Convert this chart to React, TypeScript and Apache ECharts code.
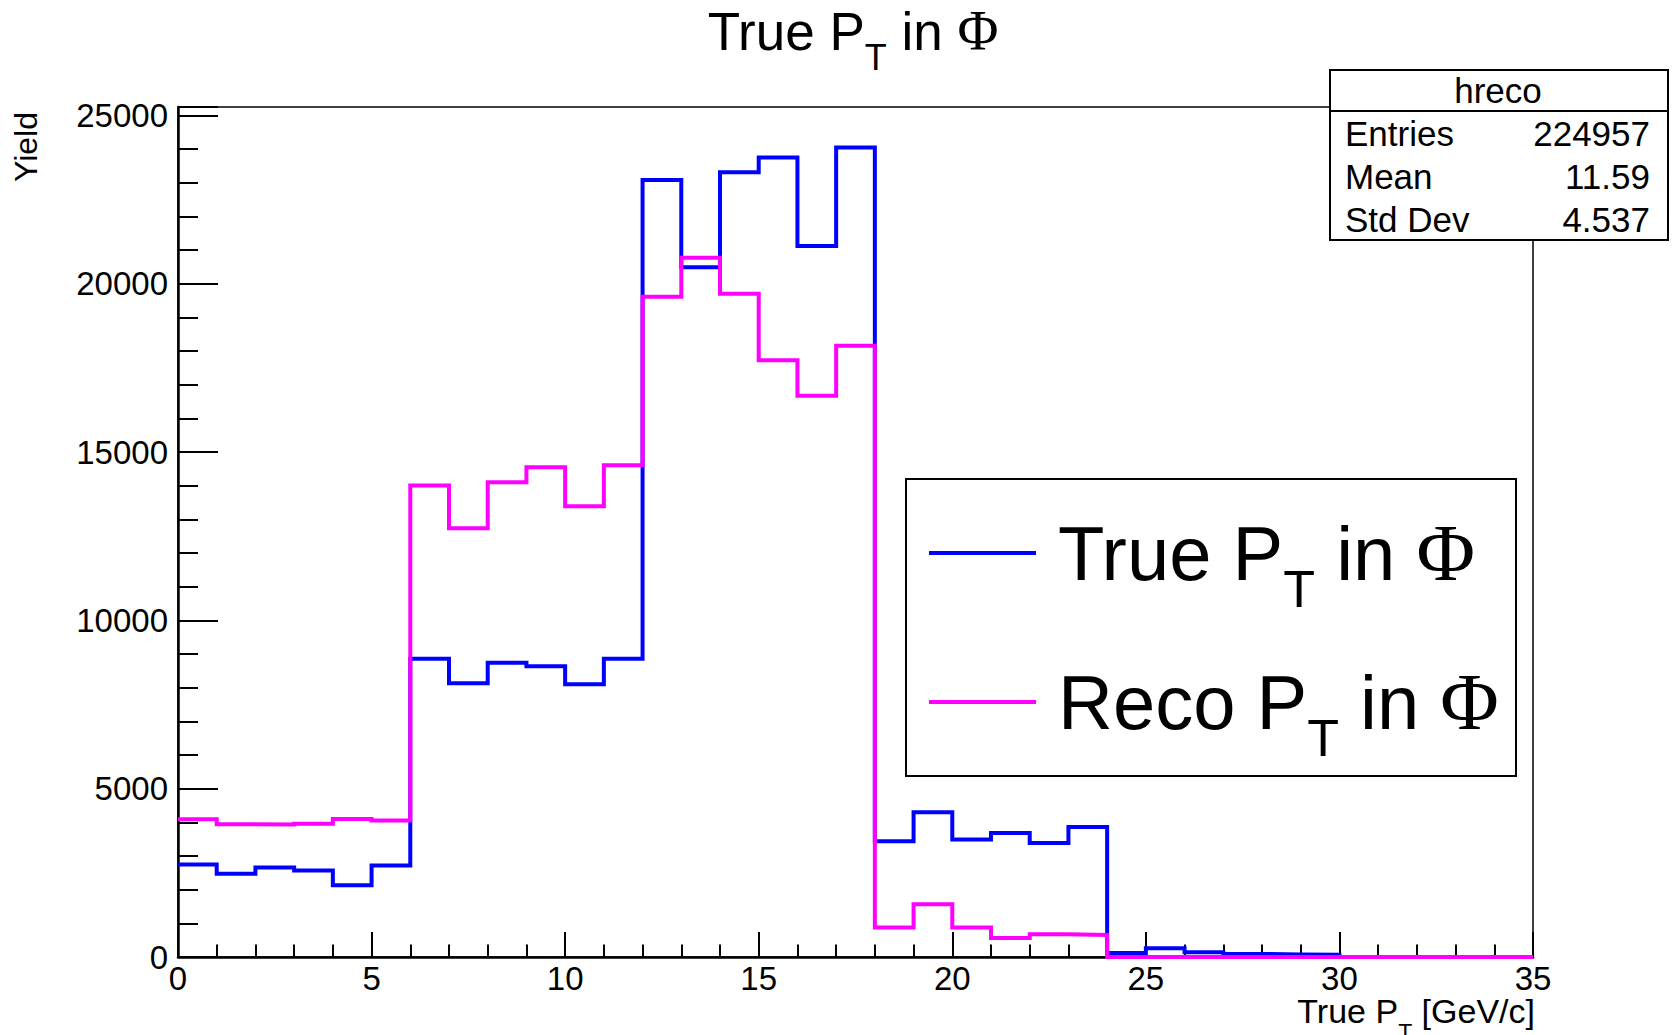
import React, { useEffect, useRef } from 'react';
import * as echarts from 'echarts';

// ---- data ----
const binEdges = [0, 1, 2, 3, 4, 5, 6, 7, 8, 9, 10, 11, 12, 13, 14, 15, 16, 17, 18, 19, 20, 21, 22, 23, 24, 25, 26, 27, 28, 29, 30, 31, 32, 33, 34, 35];
const trueYield = [2745, 2470, 2655, 2570, 2130, 2715, 8860, 8130, 8740, 8640, 8100, 8860, 23085, 20490, 23310, 23750, 21120, 24045, 3440, 4300, 3490, 3685, 3390, 3865, 120, 260, 140, 90, 75, 70, 0, 0, 0, 0, 0];
const recoYield = [4090, 3945, 3935, 3960, 4100, 4055, 14010, 12740, 14100, 14550, 13390, 14610, 19615, 20775, 19705, 17725, 16670, 18160, 875, 1570, 880, 565, 675, 655, 0, 0, 0, 0, 0, 0, 0, 0, 0, 0, 0];
const seriesNames = ['True PT in Φ', 'Reco PT in Φ'];
const statLabels = ['Entries', 'Mean', 'Std Dev'];
const statValues = ['224957', '11.59', '4.537'];
const statTitle = 'hreco';
const xRange = [0, 35];
const yRange = [0, 25250];

const FONT = "'Liberation Sans', Arial, Helvetica, sans-serif";
const SERIF = "'Liberation Serif', 'Times New Roman', serif";

const toSteps = (vals: number[]) => {
  const pts: number[][] = vals.map((v, i) => [binEdges[i], v]);
  pts.push([binEdges[vals.length], vals[vals.length - 1]]);
  return pts;
};

const tickStyle = { color: '#000', width: 2 };

function buildOption() {
  const statRowsY = [133, 176, 219];
  const statGraphics: any[] = [];
  statLabels.forEach((lab, i) => {
    statGraphics.push({
      type: 'text', z: 101, x: 1345, y: statRowsY[i],
      style: { text: lab, fontSize: 35, fontFamily: FONT, fill: '#000', align: 'left', verticalAlign: 'middle' },
    });
    statGraphics.push({
      type: 'text', z: 101, x: 1650, y: statRowsY[i],
      style: { text: statValues[i], fontSize: 35, fontFamily: FONT, fill: '#000', align: 'right', verticalAlign: 'middle' },
    });
  });

  return {
    animation: false,
    backgroundColor: '#fff',
    grid: {
      left: 178, right: 140, top: 107, bottom: 78,
      show: true, borderColor: '#000', borderWidth: 1.5, backgroundColor: 'transparent',
    },
    xAxis: {
      type: 'value', min: xRange[0], max: xRange[1], interval: 5,
      axisLine: { show: true, onZero: false, lineStyle: { color: '#000', width: 2.5 } },
      axisTick: { show: true, inside: true, length: 25, lineStyle: tickStyle },
      minorTick: { show: true, splitNumber: 5, length: 12.5, lineStyle: tickStyle },
      axisLabel: { color: '#000', fontSize: 33, fontFamily: FONT, margin: 5 },
      splitLine: { show: false },
      minorSplitLine: { show: false },
    },
    yAxis: [
      {
        type: 'value', min: yRange[0], max: yRange[1], interval: 5000, position: 'left',
        axisLine: { show: true, onZero: false, lineStyle: { color: '#000', width: 2.5 } },
        axisTick: { show: true, inside: true, length: 40, lineStyle: tickStyle },
        axisLabel: {
          color: '#000', fontSize: 33, fontFamily: FONT, margin: 10,
          formatter: (v: number) => (v % 5000 === 0 ? String(v) : ''),
        },
        splitLine: { show: false },
      },
      {
        type: 'value', min: yRange[0], max: yRange[1], interval: 1000, position: 'left',
        axisLine: { show: false },
        axisTick: { show: true, inside: true, length: 20, lineStyle: tickStyle },
        axisLabel: { show: false },
        splitLine: { show: false },
      },
    ],
    legend: {
      data: seriesNames,
      orient: 'vertical', left: 929, top: 508, padding: 0, itemGap: 42,
      itemWidth: 107, itemHeight: 4, icon: 'rect', selectedMode: false,
      itemStyle: { borderWidth: 0 },
      formatter: (name: string) => {
        const word = name.split(' ')[0];
        return `{m0|${word} P}{s|T}{m| in }{p|Φ}`;
      },
      textStyle: {
        color: '#000',
        rich: {
          m0: { fontSize: 76, fontFamily: FONT, color: '#000', lineHeight: 90, verticalAlign: 'middle', padding: [0, 0, 0, 17] },
          m: { fontSize: 76, fontFamily: FONT, color: '#000', lineHeight: 90, verticalAlign: 'middle' },
          s: { fontSize: 52, fontFamily: FONT, color: '#000', lineHeight: 52, verticalAlign: 'top', padding: [55, 0, 0, 0] },
          p: { fontSize: 80, fontFamily: SERIF, color: '#000', lineHeight: 90, verticalAlign: 'middle' },
        },
      },
    },
    series: [
      {
        name: seriesNames[0], type: 'line', step: 'end', data: toSteps(trueYield),
        symbol: 'none', color: '#0000ff', clip: false, z: 3,
        lineStyle: { color: '#0000ff', width: 4, join: 'miter', cap: 'butt' },
        xAxisIndex: 0, yAxisIndex: 0,
      },
      {
        name: seriesNames[1], type: 'line', step: 'end', data: toSteps(recoYield),
        symbol: 'none', color: '#ff00ff', clip: false, z: 4,
        lineStyle: { color: '#ff00ff', width: 4, join: 'miter', cap: 'butt' },
        xAxisIndex: 0, yAxisIndex: 0,
      },
    ],
    graphic: [
      // legend frame
      { type: 'rect', z: 1, shape: { x: 906, y: 479, width: 610, height: 297 }, style: { fill: '#fff', stroke: '#000', lineWidth: 2 } },
      // stats box
      { type: 'rect', z: 100, shape: { x: 1330, y: 70, width: 338, height: 170 }, style: { fill: '#fff', stroke: '#000', lineWidth: 2 } },
      { type: 'line', z: 101, shape: { x1: 1330, y1: 111, x2: 1668, y2: 111 }, style: { stroke: '#000', lineWidth: 2 } },
      {
        type: 'text', z: 101, x: 1498, y: 90,
        style: { text: statTitle, fontSize: 35, fontFamily: FONT, fill: '#000', align: 'center', verticalAlign: 'middle' },
      },
      ...statGraphics,
      // title
      {
        type: 'text', z: 101, x: 853, y: 31,
        style: {
          text: '{m|True P}{s|T}{m| in }{p|Φ}', align: 'center', verticalAlign: 'middle', fill: '#000',
          rich: {
            m: { fontSize: 53, fontFamily: FONT, fill: '#000', lineHeight: 60, verticalAlign: 'middle' },
            s: { fontSize: 36, fontFamily: FONT, fill: '#000', lineHeight: 36, verticalAlign: 'top', padding: [38, 0, 0, 0] },
            p: { fontSize: 56, fontFamily: SERIF, fill: '#000', lineHeight: 60, verticalAlign: 'middle' },
          },
        },
      },
      // y axis title
      {
        type: 'text', z: 101, x: 26, y: 112, rotation: Math.PI / 2,
        style: { text: 'Yield', fontSize: 32, fontFamily: FONT, fill: '#000', align: 'right', verticalAlign: 'middle' },
      },
      // x axis title
      {
        type: 'text', z: 101, x: 1535, y: 1011,
        style: {
          text: '{m|True P}{s|T}{m| [GeV/c]}', align: 'right', verticalAlign: 'middle', fill: '#000',
          rich: {
            m: { fontSize: 34, fontFamily: FONT, fill: '#000', lineHeight: 40, verticalAlign: 'middle' },
            s: { fontSize: 23, fontFamily: FONT, fill: '#000', lineHeight: 23, verticalAlign: 'top', padding: [30, 0, 0, 0] },
          },
        },
      },
    ],
  };
}

export default function App() {
  const ref = useRef<HTMLDivElement>(null);
  useEffect(() => {
    if (!ref.current) return;
    const chart = echarts.init(ref.current, null, { renderer: 'svg' });
    chart.setOption(buildOption() as any);
    return () => chart.dispose();
  }, []);
  return (
    <div
      ref={ref}
      style={{ position: 'fixed', left: 0, top: 0, width: 1673, height: 1035, background: '#fff' }}
    />
  );
}
